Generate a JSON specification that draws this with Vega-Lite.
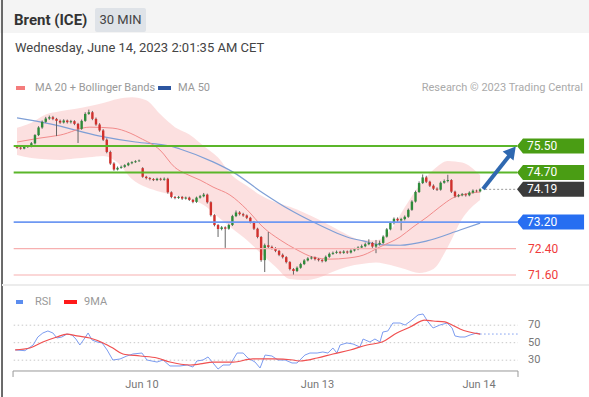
{
"$schema": "https://vega.github.io/schema/vega-lite/v6.json",
"width": 589, "height": 397, "padding": 0, "autosize": {"type": "none"},
"background": "white",
"config": {"view": {"stroke": null}, "axis": {"disable": true}, "font": "Roboto", "scale": {"continuousPadding": 0}},
"datasets": {
"candles": [
{"i":0,"o":75.47,"h":75.5,"l":75.42,"c":75.45},{"i":1,"o":75.45,"h":75.48,"l":75.39,"c":75.42},{"i":2,"o":75.42,"h":75.5,"l":75.4,"c":75.47},{"i":3,"o":75.47,"h":75.53,"l":75.44,"c":75.49},{"i":4,"o":75.49,"h":75.62,"l":75.46,"c":75.58},{"i":5,"o":75.58,"h":75.86,"l":75.55,"c":75.83},{"i":6,"o":75.83,"h":76.1,"l":75.8,"c":76.06},{"i":7,"o":76.06,"h":76.27,"l":76.02,"c":76.23},{"i":8,"o":76.23,"h":76.38,"l":76.2,"c":76.33},{"i":9,"o":76.33,"h":76.42,"l":76.29,"c":76.37},
{"i":10,"o":76.37,"h":76.41,"l":76.28,"c":76.32},{"i":11,"o":76.32,"h":76.35,"l":75.8,"c":76.26},{"i":12,"o":76.26,"h":76.3,"l":76.17,"c":76.21},{"i":13,"o":76.21,"h":76.31,"l":76.18,"c":76.27},{"i":14,"o":76.27,"h":76.3,"l":76.18,"c":76.22},{"i":15,"o":76.22,"h":76.29,"l":76.18,"c":76.25},{"i":16,"o":76.25,"h":76.28,"l":76.13,"c":76.17},{"i":17,"o":76.17,"h":76.2,"l":75.59,"c":76.02},{"i":18,"o":76.02,"h":76.3,"l":75.99,"c":76.26},{"i":19,"o":76.26,"h":76.52,"l":76.23,"c":76.47},
{"i":20,"o":76.47,"h":76.6,"l":76.44,"c":76.52},{"i":21,"o":76.52,"h":76.56,"l":76.28,"c":76.32},{"i":22,"o":76.32,"h":76.36,"l":76.11,"c":76.15},{"i":23,"o":76.15,"h":76.19,"l":75.93,"c":75.97},{"i":24,"o":75.97,"h":76.01,"l":75.65,"c":75.69},{"i":25,"o":75.69,"h":75.73,"l":75.28,"c":75.32},{"i":26,"o":75.32,"h":75.36,"l":74.93,"c":74.97},{"i":27,"o":74.97,"h":75.01,"l":74.75,"c":74.79},{"i":28,"o":74.79,"h":74.88,"l":74.76,"c":74.84},{"i":29,"o":74.84,"h":74.91,"l":74.81,"c":74.87},
{"i":30,"o":74.87,"h":74.95,"l":74.84,"c":74.92},{"i":31,"o":74.92,"h":75.01,"l":74.89,"c":74.98},{"i":32,"o":74.98,"h":75.04,"l":74.95,"c":75.01},{"i":33,"o":75.01,"h":75.07,"l":74.99,"c":75.04},{"i":34,"o":75.04,"h":75.09,"l":75.02,"c":75.06},{"i":35,"o":74.83,"h":74.86,"l":74.54,"c":74.57},{"i":36,"o":74.57,"h":74.6,"l":74.49,"c":74.53},{"i":37,"o":74.53,"h":74.56,"l":74.46,"c":74.5},{"i":38,"o":74.5,"h":74.53,"l":74.44,"c":74.47},{"i":39,"o":74.47,"h":74.54,"l":74.44,"c":74.51},
{"i":40,"o":74.51,"h":74.54,"l":74.45,"c":74.48},{"i":41,"o":74.48,"h":74.55,"l":74.45,"c":74.51},{"i":42,"o":74.51,"h":74.54,"l":74.06,"c":74.1},{"i":43,"o":74.1,"h":74.13,"l":73.92,"c":73.96},{"i":44,"o":73.96,"h":73.99,"l":73.89,"c":73.93},{"i":45,"o":73.93,"h":73.99,"l":73.9,"c":73.96},{"i":46,"o":73.96,"h":73.99,"l":73.87,"c":73.91},{"i":47,"o":73.91,"h":73.97,"l":73.88,"c":73.94},{"i":48,"o":73.94,"h":73.97,"l":73.84,"c":73.87},{"i":49,"o":73.87,"h":73.9,"l":73.77,"c":73.81},
{"i":50,"o":73.81,"h":73.97,"l":73.78,"c":73.94},{"i":51,"o":73.94,"h":74.02,"l":73.91,"c":73.98},{"i":52,"o":73.98,"h":74.08,"l":73.95,"c":74.03},{"i":53,"o":74.03,"h":74.06,"l":73.76,"c":73.8},{"i":54,"o":73.8,"h":73.83,"l":73.37,"c":73.41},{"i":55,"o":73.41,"h":73.44,"l":73.07,"c":73.11},{"i":56,"o":73.11,"h":73.14,"l":72.75,"c":72.99},{"i":57,"o":72.99,"h":73.08,"l":72.95,"c":73.04},{"i":58,"o":73.04,"h":73.07,"l":72.42,"c":73.0},{"i":59,"o":73.0,"h":73.15,"l":72.97,"c":73.11},
{"i":60,"o":73.11,"h":73.42,"l":73.08,"c":73.38},{"i":61,"o":73.38,"h":73.55,"l":73.35,"c":73.49},{"i":62,"o":73.49,"h":73.53,"l":73.4,"c":73.44},{"i":63,"o":73.44,"h":73.48,"l":73.36,"c":73.4},{"i":64,"o":73.4,"h":73.43,"l":73.29,"c":73.33},{"i":65,"o":73.33,"h":73.36,"l":73.16,"c":73.2},{"i":66,"o":73.2,"h":73.23,"l":72.96,"c":73.0},{"i":67,"o":73.0,"h":73.03,"l":72.71,"c":72.75},{"i":68,"o":72.75,"h":72.78,"l":72.0,"c":72.05},{"i":69,"o":72.05,"h":72.55,"l":71.69,"c":72.5},
{"i":70,"o":72.5,"h":72.9,"l":72.41,"c":72.45},{"i":71,"o":72.45,"h":72.49,"l":72.37,"c":72.41},{"i":72,"o":72.41,"h":72.44,"l":72.29,"c":72.33},{"i":73,"o":72.33,"h":72.36,"l":72.17,"c":72.21},{"i":74,"o":72.21,"h":72.25,"l":72.1,"c":72.14},{"i":75,"o":72.14,"h":72.17,"l":71.95,"c":71.99},{"i":76,"o":71.99,"h":72.02,"l":71.74,"c":71.78},{"i":77,"o":71.78,"h":71.81,"l":71.6,"c":71.72},{"i":78,"o":71.72,"h":71.86,"l":71.69,"c":71.82},{"i":79,"o":71.82,"h":71.97,"l":71.79,"c":71.93},
{"i":80,"o":71.93,"h":72.08,"l":71.9,"c":72.04},{"i":81,"o":72.04,"h":72.14,"l":72.01,"c":72.1},{"i":82,"o":72.1,"h":72.17,"l":72.07,"c":72.13},{"i":83,"o":72.13,"h":72.16,"l":72.04,"c":72.08},{"i":84,"o":72.08,"h":72.11,"l":72.01,"c":72.05},{"i":85,"o":72.05,"h":72.08,"l":71.98,"c":72.02},{"i":86,"o":72.02,"h":72.19,"l":71.99,"c":72.15},{"i":87,"o":72.15,"h":72.28,"l":72.12,"c":72.24},{"i":88,"o":72.24,"h":72.31,"l":72.21,"c":72.27},{"i":89,"o":72.27,"h":72.34,"l":72.24,"c":72.3},
{"i":90,"o":72.3,"h":72.33,"l":72.23,"c":72.27},{"i":91,"o":72.27,"h":72.35,"l":72.24,"c":72.31},{"i":92,"o":72.31,"h":72.34,"l":72.24,"c":72.28},{"i":93,"o":72.28,"h":72.38,"l":72.25,"c":72.34},{"i":94,"o":72.34,"h":72.42,"l":72.31,"c":72.38},{"i":95,"o":72.38,"h":72.47,"l":72.35,"c":72.43},{"i":96,"o":72.43,"h":72.52,"l":72.4,"c":72.47},{"i":97,"o":72.47,"h":72.58,"l":72.44,"c":72.53},{"i":98,"o":72.53,"h":72.68,"l":72.5,"c":72.57},{"i":99,"o":72.57,"h":72.6,"l":72.42,"c":72.46},
{"i":100,"o":72.46,"h":72.66,"l":72.26,"c":72.53},{"i":101,"o":72.53,"h":72.64,"l":72.49,"c":72.57},{"i":102,"o":72.57,"h":72.8,"l":72.54,"c":72.76},{"i":103,"o":72.76,"h":73.02,"l":72.73,"c":72.98},{"i":104,"o":72.98,"h":73.21,"l":72.95,"c":73.17},{"i":105,"o":73.17,"h":73.34,"l":73.13,"c":73.3},{"i":106,"o":73.3,"h":73.34,"l":73.21,"c":73.25},{"i":107,"o":73.25,"h":73.33,"l":72.95,"c":73.29},{"i":108,"o":73.29,"h":73.4,"l":73.25,"c":73.36},{"i":109,"o":73.36,"h":73.61,"l":73.33,"c":73.57},
{"i":110,"o":73.57,"h":73.86,"l":73.54,"c":73.82},{"i":111,"o":73.82,"h":74.15,"l":73.79,"c":74.11},{"i":112,"o":74.11,"h":74.43,"l":74.08,"c":74.38},{"i":113,"o":74.38,"h":74.64,"l":74.35,"c":74.55},{"i":114,"o":74.55,"h":74.6,"l":74.38,"c":74.42},{"i":115,"o":74.42,"h":74.45,"l":74.26,"c":74.3},{"i":116,"o":74.3,"h":74.34,"l":74.17,"c":74.21},{"i":117,"o":74.21,"h":74.25,"l":74.14,"c":74.18},{"i":118,"o":74.18,"h":74.43,"l":74.15,"c":74.39},{"i":119,"o":74.39,"h":74.49,"l":74.36,"c":74.44},
{"i":120,"o":74.44,"h":74.63,"l":74.4,"c":74.47},{"i":121,"o":74.47,"h":74.5,"l":74.08,"c":74.12},{"i":122,"o":74.12,"h":74.15,"l":73.94,"c":73.98},{"i":123,"o":73.98,"h":74.05,"l":73.95,"c":74.01},{"i":124,"o":74.01,"h":74.08,"l":73.98,"c":74.04},{"i":125,"o":74.04,"h":74.07,"l":73.97,"c":74.01},{"i":126,"o":74.01,"h":74.13,"l":73.98,"c":74.09},{"i":127,"o":74.09,"h":74.19,"l":74.06,"c":74.15},{"i":128,"o":74.15,"h":74.18,"l":74.1,"c":74.13},{"i":129,"o":74.13,"h":74.22,"l":74.1,"c":74.19}
],
"bb": [
{"i":0,"up":76.05,"lo":75.23},{"i":4,"up":76.2,"lo":75.14},{"i":8,"up":76.45,"lo":75.1},{"i":12,"up":76.55,"lo":75.08},{"i":16,"up":76.62,"lo":75.12},{"i":20,"up":76.7,"lo":75.16},{"i":24,"up":76.8,"lo":75.2},{"i":28,"up":76.92,"lo":75.0},{"i":32,"up":76.97,"lo":74.5},{"i":36,"up":76.88,"lo":74.25},{"i":40,"up":76.45,"lo":74.11},{"i":44,"up":76.07,"lo":74.0},{"i":48,"up":75.85,"lo":73.88},{"i":52,"up":75.5,"lo":73.72},{"i":56,"up":75.15,"lo":73.35},{"i":60,"up":74.6,"lo":73.0},{"i":64,"up":74.3,"lo":72.66},{"i":68,"up":74.0,"lo":72.25},{"i":72,"up":73.8,"lo":71.85},{"i":76,"up":73.66,"lo":71.48},{"i":80,"up":73.48,"lo":71.45},{"i":84,"up":73.28,"lo":71.52},{"i":88,"up":73.05,"lo":71.7},{"i":92,"up":72.82,"lo":71.85},{"i":96,"up":72.66,"lo":71.93},{"i":100,"up":72.65,"lo":71.98},{"i":104,"up":72.95,"lo":71.9},{"i":108,"up":73.65,"lo":71.78},{"i":112,"up":74.3,"lo":71.66},{"i":116,"up":74.78,"lo":71.78},{"i":120,"up":75.05,"lo":72.45},{"i":124,"up":75.0,"lo":73.3},{"i":129,"up":74.62,"lo":73.87}
],
"ma20": [
{"i":0,"v":75.62},{"i":6.4,"v":75.74},{"i":12,"v":75.83},{"i":20.3,"v":76.07},{"i":26.7,"v":76.04},{"i":31.5,"v":75.89},{"i":34.3,"v":75.74},{"i":39.8,"v":75.38},{"i":44,"v":74.85},{"i":47,"v":74.66},{"i":51,"v":74.47},{"i":54.6,"v":74.26},{"i":59.3,"v":74.02},{"i":64.1,"v":73.57},{"i":68.5,"v":73.05},{"i":73.3,"v":72.66},{"i":78,"v":72.36},{"i":82.5,"v":72.14},{"i":87.2,"v":72.08},{"i":91.9,"v":72.11},{"i":96.4,"v":72.2},{"i":101.1,"v":72.45},{"i":106.7,"v":72.75},{"i":110.3,"v":73.05},{"i":114.2,"v":73.35},{"i":117.8,"v":73.66},{"i":121.4,"v":73.93},{"i":125,"v":74.05},{"i":129,"v":74.11}
],
"ma50": [
{"i":0,"v":76.35},{"i":9.2,"v":76.17},{"i":23.1,"v":75.8},{"i":33,"v":75.62},{"i":42.6,"v":75.5},{"i":45.4,"v":75.41},{"i":54.6,"v":75.02},{"i":60.2,"v":74.71},{"i":68.5,"v":74.08},{"i":76,"v":73.57},{"i":82.5,"v":73.2},{"i":87.2,"v":72.96},{"i":91.9,"v":72.75},{"i":96.4,"v":72.63},{"i":101.1,"v":72.52},{"i":106.7,"v":72.5},{"i":114.2,"v":72.63},{"i":123.4,"v":72.96},{"i":129,"v":73.17}
],
"levels": [
{"level":75.5,"kind":"res"},{"level":74.7,"kind":"res"},{"level":74.19,"kind":"last"},{"level":73.2,"kind":"pivot"},{"level":72.4,"kind":"sup"},{"level":71.6,"kind":"sup"}
],
"arrow": [{"i":129.8,"p":74.2},{"i":137.3,"p":75.23}],
"rsi": [
{"i":-0.5,"v":41.7},{"i":2.2,"v":40.9},{"i":4.5,"v":47.4},{"i":5.8,"v":56.5},{"i":7.2,"v":61.1},{"i":8.6,"v":63.4},{"i":10,"v":61.1},{"i":11.1,"v":55.4},{"i":12.5,"v":56.5},{"i":13.9,"v":59.9},{"i":15.3,"v":58.8},{"i":16.4,"v":54.2},{"i":17.5,"v":47.4},{"i":18.9,"v":55.4},{"i":19.8,"v":61.1},{"i":20.9,"v":53.1},{"i":22.3,"v":50.8},{"i":23.7,"v":49.7},{"i":25.1,"v":41.7},{"i":26.7,"v":30.2},{"i":28.7,"v":31.4},{"i":30.6,"v":34.8},{"i":32.3,"v":37.1},{"i":34.8,"v":38.2},{"i":36.2,"v":30.2},{"i":39,"v":27.9},{"i":40.7,"v":30.2},{"i":42.6,"v":23.4},{"i":45.4,"v":23.4},{"i":47.4,"v":24.5},{"i":49,"v":22.2},{"i":50.1,"v":29.1},{"i":51.8,"v":30.2},{"i":53.2,"v":33.7},{"i":54.6,"v":26.8},{"i":56,"v":19.9},{"i":57.4,"v":24.5},{"i":59.3,"v":24.5},{"i":61.3,"v":38.2},{"i":63,"v":38.2},{"i":64.3,"v":32.5},{"i":66.3,"v":27.9},{"i":67.7,"v":21.1},{"i":69.1,"v":35.9},{"i":71,"v":34.8},{"i":72.7,"v":30.2},{"i":74.7,"v":30.2},{"i":76.6,"v":26.8},{"i":78,"v":26.8},{"i":78.8,"v":30.2},{"i":80.2,"v":35.9},{"i":81.6,"v":38.2},{"i":83.6,"v":38.2},{"i":85.2,"v":39.4},{"i":86.6,"v":38.2},{"i":88,"v":43.9},{"i":89.1,"v":38.2},{"i":90,"v":47.4},{"i":91.9,"v":49.7},{"i":93.6,"v":48.5},{"i":95.5,"v":45.1},{"i":96.4,"v":54.2},{"i":98.3,"v":50.8},{"i":99.7,"v":54.2},{"i":101.1,"v":50.8},{"i":101.9,"v":62.2},{"i":103.3,"v":63.4},{"i":104.7,"v":72.5},{"i":106.7,"v":72.5},{"i":108.1,"v":70.2},{"i":110,"v":75.9},{"i":111.7,"v":81.7},{"i":113.1,"v":82.8},{"i":114.5,"v":73.7},{"i":115.9,"v":66.8},{"i":117.8,"v":70.2},{"i":119.8,"v":72.5},{"i":121.2,"v":66.8},{"i":122,"v":57.7},{"i":123.4,"v":56.5},{"i":124.8,"v":56.5},{"i":126.2,"v":58.8},{"i":128.1,"v":61.1},{"i":129,"v":59.9}
],
"rsima": [
{"i":-0.5,"v":41.7},{"i":3.6,"v":43.9},{"i":7.2,"v":50.8},{"i":11.1,"v":56.5},{"i":13.9,"v":59.9},{"i":16.7,"v":57.7},{"i":20.3,"v":55.4},{"i":24,"v":49.7},{"i":26.7,"v":43.9},{"i":29.5,"v":37.1},{"i":34.3,"v":34.8},{"i":39,"v":32.5},{"i":42.6,"v":27.9},{"i":48.2,"v":24.5},{"i":51,"v":25.7},{"i":54.6,"v":27.9},{"i":60.2,"v":27.9},{"i":65.7,"v":31.4},{"i":71.3,"v":31.4},{"i":76.9,"v":30.2},{"i":78.8,"v":29.1},{"i":83.6,"v":32.5},{"i":88,"v":37.1},{"i":92.8,"v":41.7},{"i":97.5,"v":47.4},{"i":101.7,"v":50.8},{"i":105.8,"v":61.1},{"i":109.5,"v":67.9},{"i":113.6,"v":75.9},{"i":115.9,"v":74.8},{"i":119.2,"v":73.7},{"i":121.2,"v":70.2},{"i":123.4,"v":65.7},{"i":129,"v":59.9}
],
"rsilevels": [{"v":70},{"v":50},{"v":30}],
"days": [{"i":34.8,"label":"Jun 10"},{"i":83.7,"label":"Jun 13"},{"i":128.7,"label":"Jun 14"}]
},
"layer": [
{
"layer": [
{"data": {"values": [{}]}, "mark": {"type": "rect", "color": "#f4f4f4"},
 "encoding": {"x": {"datum": -4.74, "scale": {"domain": [-4.74, 159.33], "nice": false, "zero": false, "padding": 0}}, "x2": {"datum": 159.33},
  "y": {"datum": 79.9135, "scale": {"domain": [67.9123, 79.9135], "nice": false, "zero": false}}, "y2": {"datum": 78.916}}},
{"data": {"values": [{}]}, "mark": {"type": "rect", "color": "#dfe3e8", "cornerRadius": 2},
 "encoding": {"x": {"datum": 21.73}, "x2": {"datum": 35.93}, "y": {"datum": 79.672}, "y2": {"datum": 78.946}}},
{"data": {"values": [{}]}, "mark": {"type": "text", "text": "Brent (ICE)", "align": "left", "baseline": "middle", "fontSize": 15, "fontWeight": "bold", "color": "#333333"},
 "encoding": {"x": {"datum": -0.84}, "y": {"datum": 79.309}}},
{"data": {"values": [{}]}, "mark": {"type": "text", "text": "30 MIN", "align": "center", "baseline": "middle", "fontSize": 13, "color": "#444444"},
 "encoding": {"x": {"datum": 28.83}, "y": {"datum": 79.309}}},
{"data": {"values": [{}]}, "mark": {"type": "text", "text": "Wednesday, June 14, 2023 2:01:35 AM CET", "align": "left", "baseline": "middle", "fontSize": 13, "color": "#444444"},
 "encoding": {"x": {"datum": -0.56}, "y": {"datum": 78.462}}},
{"data": {"values": [{}]}, "mark": {"type": "rect", "color": "#f47c7c"},
 "encoding": {"x": {"datum": -0.28}, "x2": {"datum": 2.23}, "y": {"datum": 77.314}, "y2": {"datum": 77.193}}},
{"data": {"values": [{}]}, "mark": {"type": "text", "text": "MA 20 + Bollinger Bands", "align": "left", "baseline": "middle", "fontSize": 11, "color": "#999999"},
 "encoding": {"x": {"datum": 5.01}, "y": {"datum": 77.253}}},
{"data": {"values": [{}]}, "mark": {"type": "rect", "color": "#2c55a0"},
 "encoding": {"x": {"datum": 39.28}, "x2": {"datum": 42.9}, "y": {"datum": 77.314}, "y2": {"datum": 77.193}}},
{"data": {"values": [{}]}, "mark": {"type": "text", "text": "MA 50", "align": "left", "baseline": "middle", "fontSize": 11, "color": "#999999"},
 "encoding": {"x": {"datum": 44.85}, "y": {"datum": 77.253}}},
{"data": {"values": [{}]}, "mark": {"type": "text", "text": "Research © 2023 Trading Central", "align": "right", "baseline": "middle", "fontSize": 11, "color": "#aaaaaa"},
 "encoding": {"x": {"datum": 157.66}, "y": {"datum": 77.253}}},
{"data": {"name": "bb"}, "mark": {"type": "area", "color": "#fcdada", "opacity": 0.85, "interpolate": "monotone"},
 "encoding": {"x": {"field": "i", "type": "quantitative"}, "y": {"field": "up", "type": "quantitative"}, "y2": {"field": "lo"}}},
{"data": {"name": "ma50"}, "mark": {"type": "line", "color": "#7f9fd6", "strokeWidth": 1.2, "interpolate": "monotone"},
 "encoding": {"x": {"field": "i", "type": "quantitative"}, "y": {"field": "v", "type": "quantitative"}}},
{"data": {"name": "ma20"}, "mark": {"type": "line", "color": "#f28b8b", "strokeWidth": 1, "interpolate": "monotone"},
 "encoding": {"x": {"field": "i", "type": "quantitative"}, "y": {"field": "v", "type": "quantitative"}}},
{"data": {"name": "candles"}, "mark": {"type": "rule", "color": "#666666", "strokeWidth": 1},
 "encoding": {"x": {"field": "i", "type": "quantitative"}, "y": {"field": "l", "type": "quantitative"}, "y2": {"field": "h"}}},
{"data": {"name": "candles"}, "mark": {"type": "bar", "size": 2.4},
 "encoding": {"x": {"field": "i", "type": "quantitative"}, "y": {"field": "o", "type": "quantitative"}, "y2": {"field": "c"},
  "color": {"condition": {"test": "datum.c >= datum.o", "value": "#2e8b3a"}, "value": "#d0312d"}}},
{"data": {"name": "levels"}, "transform": [{"filter": "datum.kind == 'sup'"}], "mark": {"type": "rule", "color": "#f7b0b0", "strokeWidth": 1.2},
 "encoding": {"x": {"datum": -0.93}, "x2": {"datum": 139.0}, "y": {"field": "level", "type": "quantitative"}}},
{"data": {"name": "levels"}, "transform": [{"filter": "datum.kind == 'pivot'"}], "mark": {"type": "rule", "color": "#6e98f2", "strokeWidth": 1.6},
 "encoding": {"x": {"datum": -0.93}, "x2": {"datum": 139.3}, "y": {"field": "level", "type": "quantitative"}}},
{"data": {"name": "levels"}, "transform": [{"filter": "datum.kind == 'res'"}], "mark": {"type": "rule", "color": "#5bb62a", "strokeWidth": 2},
 "encoding": {"x": {"datum": -0.93}, "x2": {"datum": 139.3}, "y": {"field": "level", "type": "quantitative"}}},
{"data": {"name": "levels"}, "transform": [{"filter": "datum.kind == 'last'"}], "mark": {"type": "rule", "color": "#999999", "strokeWidth": 1, "strokeDash": [2, 2]},
 "encoding": {"x": {"datum": 130.4}, "x2": {"datum": 139.3}, "y": {"field": "level", "type": "quantitative"}}},
{"data": {"name": "arrow"}, "mark": {"type": "line", "color": "#2f68b0", "strokeWidth": 4},
 "encoding": {"x": {"field": "i", "type": "quantitative"}, "y": {"field": "p", "type": "quantitative"}}},
{"data": {"values": [{}]}, "mark": {"type": "point", "shape": "triangle-up", "filled": true, "color": "#2f68b0", "opacity": 1, "size": 196, "angle": 39},
 "encoding": {"x": {"datum": 137.86}, "y": {"datum": 75.34}}},
{"data": {"name": "levels"}, "transform": [{"filter": "datum.kind != 'sup'"}],
 "mark": {"type": "point", "shape": "M-4.47,0L-3.67,-1L4.47,-1L4.47,1L-3.67,1Z", "filled": true, "opacity": 1, "size": 225, "strokeWidth": 0},
 "encoding": {"x": {"datum": 148.61}, "y": {"field": "level", "type": "quantitative"},
  "color": {"field": "kind", "type": "nominal", "scale": {"domain": ["res", "pivot", "last"], "range": ["#4a9d14", "#276ef1", "#3b3b3b"]}, "legend": null}}},
{"data": {"name": "levels"}, "transform": [{"filter": "datum.kind != 'sup'"}],
 "mark": {"type": "text", "align": "left", "baseline": "middle", "fontSize": 12, "color": "white"},
 "encoding": {"x": {"datum": 142.07}, "y": {"field": "level", "type": "quantitative"}, "text": {"field": "level", "type": "quantitative", "format": ".2f"}}},
{"data": {"name": "levels"}, "transform": [{"filter": "datum.kind == 'sup'"}],
 "mark": {"type": "text", "align": "left", "baseline": "middle", "fontSize": 12, "color": "#ef3b3b"},
 "encoding": {"x": {"datum": 142.34}, "y": {"field": "level", "type": "quantitative"}, "text": {"field": "level", "type": "quantitative", "format": ".2f"}}},
{"data": {"values": [{}]}, "mark": {"type": "rule", "color": "#3a3a3a", "strokeWidth": 1.5},
 "encoding": {"x": {"datum": -4.18}, "y": {"datum": 79.9135}, "y2": {"datum": 67.9123}}}
]
},
{
"layer": [
{"data": {"values": [{}]}, "mark": {"type": "rule", "color": "#ececec", "strokeWidth": 2},
 "encoding": {"x": {"datum": -4.18}, "x2": {"datum": 159.33}, "y": {"datum": 115.94, "scale": {"domain": [-12.06, 441.66], "nice": false, "zero": false}}}},
{"data": {"values": [{}]}, "mark": {"type": "rect", "color": "#5b8def"},
 "encoding": {"x": {"datum": -0.28}, "x2": {"datum": 1.67}, "y": {"datum": 98.8}, "y2": {"datum": 94.2}}},
{"data": {"values": [{}]}, "mark": {"type": "text", "text": "RSI", "align": "left", "baseline": "middle", "fontSize": 11, "color": "#999999"},
 "encoding": {"x": {"datum": 5.01}, "y": {"datum": 96.86}}},
{"data": {"values": [{}]}, "mark": {"type": "rect", "color": "#ff1a1a"},
 "encoding": {"x": {"datum": 13.09}, "x2": {"datum": 16.71}, "y": {"datum": 98.8}, "y2": {"datum": 94.2}}},
{"data": {"values": [{}]}, "mark": {"type": "text", "text": "9MA", "align": "left", "baseline": "middle", "fontSize": 11, "color": "#999999"},
 "encoding": {"x": {"datum": 18.66}, "y": {"datum": 96.86}}},
{"data": {"name": "rsilevels"}, "mark": {"type": "rule", "color": "#c8c8c8", "strokeWidth": 1, "strokeDash": [1.5, 2.5]},
 "encoding": {"x": {"datum": -0.93}, "x2": {"datum": 139.55}, "y": {"field": "v", "type": "quantitative"}}},
{"data": {"name": "rsilevels"}, "mark": {"type": "text", "align": "left", "baseline": "middle", "fontSize": 11, "color": "#777777"},
 "encoding": {"x": {"datum": 142.34}, "y": {"field": "v", "type": "quantitative"}, "text": {"field": "v", "type": "quantitative"}}},
{"data": {"values": [{}]}, "mark": {"type": "rule", "color": "#7c9cf0", "strokeWidth": 1, "strokeDash": [1.5, 2.5]},
 "encoding": {"x": {"datum": 129}, "x2": {"datum": 139.55}, "y": {"datum": 59.9}}},
{"data": {"name": "rsi"}, "mark": {"type": "line", "color": "#7c9cf0", "strokeWidth": 1},
 "encoding": {"x": {"field": "i", "type": "quantitative"}, "y": {"field": "v", "type": "quantitative"}}},
{"data": {"name": "rsima"}, "mark": {"type": "line", "color": "#f05050", "strokeWidth": 1.2, "interpolate": "monotone"},
 "encoding": {"x": {"field": "i", "type": "quantitative"}, "y": {"field": "v", "type": "quantitative"}}},
{"data": {"values": [{}]}, "mark": {"type": "rule", "color": "#999999", "strokeWidth": 1},
 "encoding": {"x": {"datum": -1.11}, "x2": {"datum": 139.55}, "y": {"datum": 17.66}}},
{"data": {"values": [{}]}, "mark": {"type": "rule", "color": "#999999", "strokeWidth": 1},
 "encoding": {"x": {"datum": -1.11}, "y": {"datum": 17.66}, "y2": {"datum": 10.8}}},
{"data": {"values": [{}]}, "mark": {"type": "rule", "color": "#999999", "strokeWidth": 1},
 "encoding": {"x": {"datum": 139.55}, "y": {"datum": 17.66}, "y2": {"datum": 10.8}}},
{"data": {"name": "days"}, "mark": {"type": "text", "align": "center", "baseline": "middle", "fontSize": 11, "color": "#777777"},
 "encoding": {"x": {"field": "i", "type": "quantitative"}, "y": {"datum": 1.66}, "text": {"field": "label"}}}
]
}
],
"resolve": {"scale": {"y": "independent"}}
}
